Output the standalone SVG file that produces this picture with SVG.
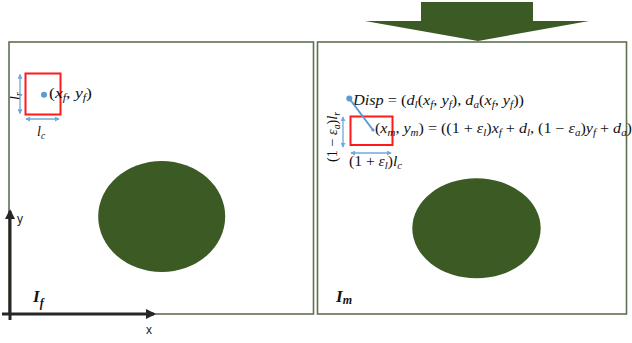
<svg xmlns="http://www.w3.org/2000/svg" width="632" height="343" viewBox="0 0 632 343">
<style>
.panel{fill:#ffffff;stroke:#5f7050;stroke-width:1.6}
.blob{fill:#3b5a24}
.m{font-family:"Liberation Serif","DejaVu Serif",serif;font-size:14px;fill:#111}
.i{font-style:italic}
.s{font-size:9.5px;font-style:italic}
.dim{stroke:#6fa8dc;stroke-width:1.3;fill:none}
.red{fill:none;stroke:#ff1a1a;stroke-width:2}
.ax{stroke:#262626;stroke-width:3;fill:none}
.lab{font-family:"Liberation Sans",Arial,sans-serif;font-size:12px;fill:#222}
.big{font-family:"Liberation Serif",serif;font-weight:bold;font-style:italic;fill:#111}
</style>
<defs>
<marker id="bh" viewBox="0 0 6 6" refX="5" refY="3" markerWidth="5" markerHeight="5" orient="auto-start-reverse" markerUnits="userSpaceOnUse">
<path d="M0,0 L6,3 L0,6 z" fill="#6fa8dc"/>
</marker>
<marker id="ah" viewBox="0 0 10 10" refX="8" refY="5" markerWidth="10" markerHeight="10" orient="auto" markerUnits="userSpaceOnUse">
<path d="M0,0 L10,5 L0,10 z" fill="#262626"/>
</marker>
</defs>

<g id="big-arrow">
<polygon points="421,2 533,2 533,21 589,21 478,41 365,21 421,21" fill="#3b5a24"/>
</g>

<g id="panel-f">
<rect class="panel" x="9" y="42" width="304.5" height="272"/>
<ellipse class="blob" cx="161.7" cy="216.5" rx="63.5" ry="55.5"/>
<text class="big" x="33" y="302" font-size="17">I<tspan font-size="12" dy="5">f</tspan></text>
</g>

<g id="panel-m">
<rect class="panel" x="317.5" y="42" width="309" height="272"/>
<ellipse class="blob" cx="476.5" cy="228.3" rx="64.2" ry="50"/>
<text class="big" x="336" y="302" font-size="17">I<tspan font-size="12" dy="2">m</tspan></text>
</g>

<g id="patch-f">
<rect class="red" x="25.5" y="73.5" width="35" height="41"/>
<circle cx="44" cy="94.7" r="3" fill="#5b9bd5"/>
<text class="m" x="49" y="98" textLength="43" lengthAdjust="spacingAndGlyphs">(<tspan class="i">x</tspan><tspan class="s" dy="3">f</tspan><tspan dy="-3">, </tspan><tspan class="i">y</tspan><tspan class="s" dy="3">f</tspan><tspan dy="-3">)</tspan></text>
<text class="m" font-size="13" transform="translate(19.5,100) rotate(-90)"><tspan class="i">l</tspan><tspan class="s" dy="2">r</tspan></text>
<text class="m" x="37" y="136"><tspan class="i">l</tspan><tspan class="s" dy="3">c</tspan></text>
</g>

<g id="patch-m">
<rect class="red" x="350.5" y="116.5" width="42" height="28.5"/>
<circle cx="349.3" cy="98.5" r="3" fill="#5b9bd5"/>
<text class="m" x="353" y="105" textLength="171" lengthAdjust="spacingAndGlyphs"><tspan class="i">Disp</tspan> = (<tspan class="i">d</tspan><tspan class="s" dy="3">l</tspan><tspan dy="-3">(</tspan><tspan class="i">x</tspan><tspan class="s" dy="3">f</tspan><tspan dy="-3">, </tspan><tspan class="i">y</tspan><tspan class="s" dy="3">f</tspan><tspan dy="-3">), </tspan><tspan class="i">d</tspan><tspan class="s" dy="3">a</tspan><tspan dy="-3">(</tspan><tspan class="i">x</tspan><tspan class="s" dy="3">f</tspan><tspan dy="-3">, </tspan><tspan class="i">y</tspan><tspan class="s" dy="3">f</tspan><tspan dy="-3">))</tspan></text>
<text class="m" x="375" y="133" textLength="257" lengthAdjust="spacingAndGlyphs">(<tspan class="i">x</tspan><tspan class="s" dy="3">m</tspan><tspan dy="-3">, </tspan><tspan class="i">y</tspan><tspan class="s" dy="3">m</tspan><tspan dy="-3">) = ((1 + </tspan><tspan class="i">ε</tspan><tspan class="s" dy="3">l</tspan><tspan dy="-3">)</tspan><tspan class="i">x</tspan><tspan class="s" dy="3">f</tspan><tspan dy="-3"> + </tspan><tspan class="i">d</tspan><tspan class="s" dy="3">l</tspan><tspan dy="-3">, (1 − </tspan><tspan class="i">ε</tspan><tspan class="s" dy="3">a</tspan><tspan dy="-3">)</tspan><tspan class="i">y</tspan><tspan class="s" dy="3">f</tspan><tspan dy="-3"> + </tspan><tspan class="i">d</tspan><tspan class="s" dy="3">a</tspan><tspan dy="-3">)</tspan></text>
<text class="m" transform="translate(337,162) rotate(-90)" textLength="50" lengthAdjust="spacingAndGlyphs">(1 − <tspan class="i">ε</tspan><tspan class="s" dy="3">a</tspan><tspan dy="-3">)</tspan><tspan class="i">l</tspan><tspan class="s" dy="3">r</tspan></text>
<text class="m" x="349" y="166" textLength="53" lengthAdjust="spacingAndGlyphs">(1 + <tspan class="i">ε</tspan><tspan class="s" dy="3">l</tspan><tspan dy="-3">)</tspan><tspan class="i">l</tspan><tspan class="s" dy="3">c</tspan></text>
</g>

<g id="axes">
<line class="ax" x1="10" y1="320" x2="10" y2="211" marker-end="url(#ah)"/>
<line class="ax" x1="2" y1="314" x2="154" y2="314" marker-end="url(#ah)"/>
<text class="lab" x="17" y="223">y</text>
<text class="lab" x="146" y="334">x</text>
</g>

<g id="connectors">
<line class="dim" x1="20" y1="74.5" x2="20" y2="113.5" marker-start="url(#bh)" marker-end="url(#bh)"/>
<line class="dim" x1="26" y1="119" x2="59" y2="119" marker-start="url(#bh)" marker-end="url(#bh)"/>
<line class="dim" x1="343" y1="117" x2="343" y2="147" marker-start="url(#bh)" marker-end="url(#bh)"/>
<line class="dim" x1="351" y1="153" x2="391" y2="153" marker-start="url(#bh)" marker-end="url(#bh)"/>
<line x1="349.3" y1="98.5" x2="373" y2="130" stroke="#5b9bd5" stroke-width="2"/>
<circle cx="373" cy="130" r="1.6" fill="#5b9bd5"/>
</g>
</svg>
